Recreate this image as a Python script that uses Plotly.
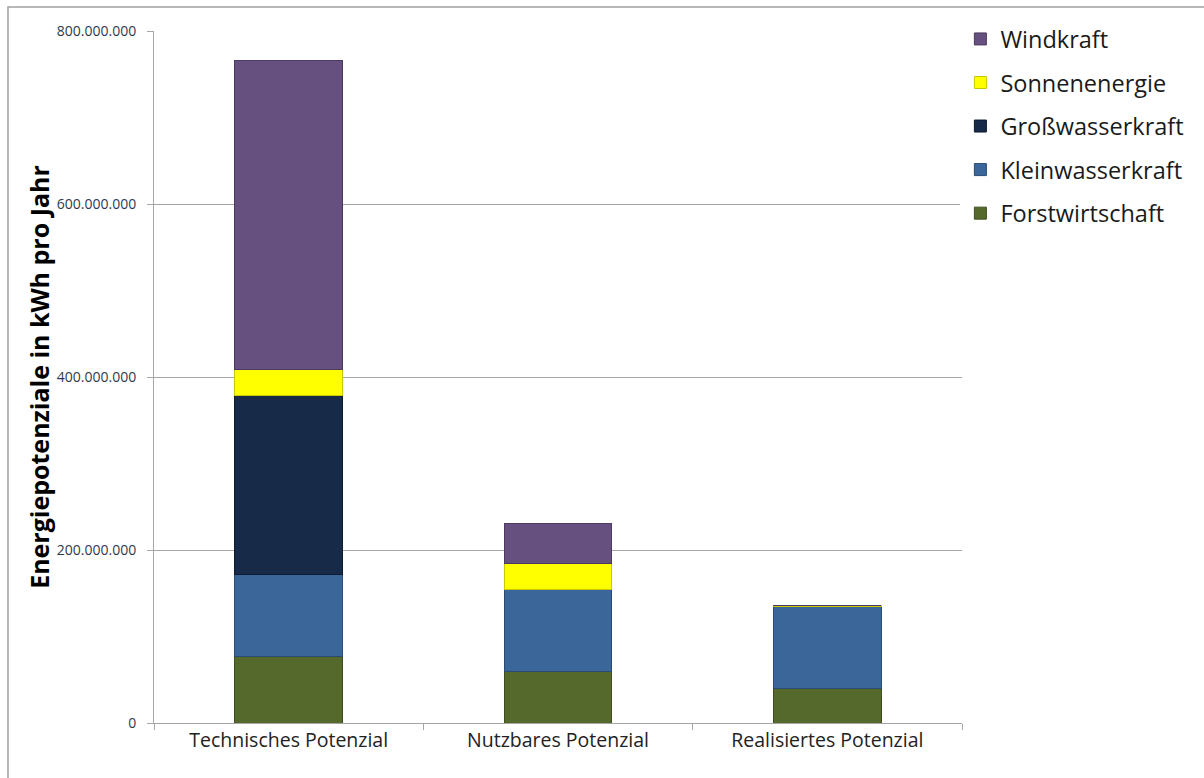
import plotly.graph_objects as go

# Energy potentials (kWh per year), stacked by source
categories = ["Technisches Potenzial", "Nutzbares Potenzial", "Realisiertes Potenzial"]
forstwirtschaft = [77_000_000, 59_000_000, 40_000_000]
kleinwasserkraft = [95_000_000, 95_000_000, 95_000_000]
grosswasserkraft = [207_000_000, 0, 0]
sonnenenergie = [30_000_000, 30_000_000, 1_000_000]
windkraft = [357_000_000, 47_000_000, 0]

series = [
    ("Forstwirtschaft", forstwirtschaft, "#56692C", "#3F4E1F"),
    ("Kleinwasserkraft", kleinwasserkraft, "#3A6699", "#2A4C73"),
    ("Großwasserkraft", grosswasserkraft, "#172A47", "#0E1A2E"),
    ("Sonnenenergie", sonnenenergie, "#FFFF00", "#C8C800"),
    ("Windkraft", windkraft, "#66507F", "#4C3B60"),
]

fig = go.Figure()
for i, (name, vals, color, edge) in enumerate(series):
    fig.add_trace(go.Bar(
        name=name, x=categories, y=vals,
        marker=dict(color=color, line=dict(color=edge, width=1)),
        legendgroup=name, legendrank=len(series) - i,
    ))

fig.update_layout(
    width=1204, height=778,
    barmode="stack", bargap=0.6,
    separators=",.",
    paper_bgcolor="white", plot_bgcolor="white",
    margin=dict(l=154, r=242, t=31, b=55),
    font=dict(family="'Open Sans', sans-serif", color="#333333"),
    legend=dict(
        x=0.998, y=1.02, xanchor="left", yanchor="top",
        traceorder="grouped", tracegroupgap=10,
        font=dict(size=23.5, color="#1a1a1a"),
        itemwidth=30,
    ),
    showlegend=True,
)

fig.update_yaxes(
    range=[0, 800_000_000], dtick=200_000_000, tickformat=",.0f",
    showgrid=True, gridcolor="#a6a6a6", gridwidth=1,
    showline=True, linecolor="#a6a6a6", linewidth=1,
    ticks="outside", ticklen=6, tickcolor="#a6a6a6",
    tickfont=dict(size=14, color="#2d3b4f"), ticklabelstandoff=8,
    title=dict(text="<b>Energiepotenziale in kWh pro Jahr</b>",
               font=dict(size=25, color="#000000"), standoff=0),
    zeroline=False,
)
fig.update_xaxes(
    showline=True, linecolor="#a6a6a6", linewidth=1,
    ticks="outside", ticklen=6, tickcolor="#a6a6a6", tickson="boundaries",
    tickfont=dict(size=19.5, color="#222222"),
)

# Light grey frame around the whole chart
fig.add_shape(type="rect", xref="paper", yref="paper",
              x0=-0.1807, x1=1.31, y0=-0.09, y1=1.0347,
              line=dict(color="#a0a0a0", width=1.5), layer="below")

fig.write_html("out.html")
